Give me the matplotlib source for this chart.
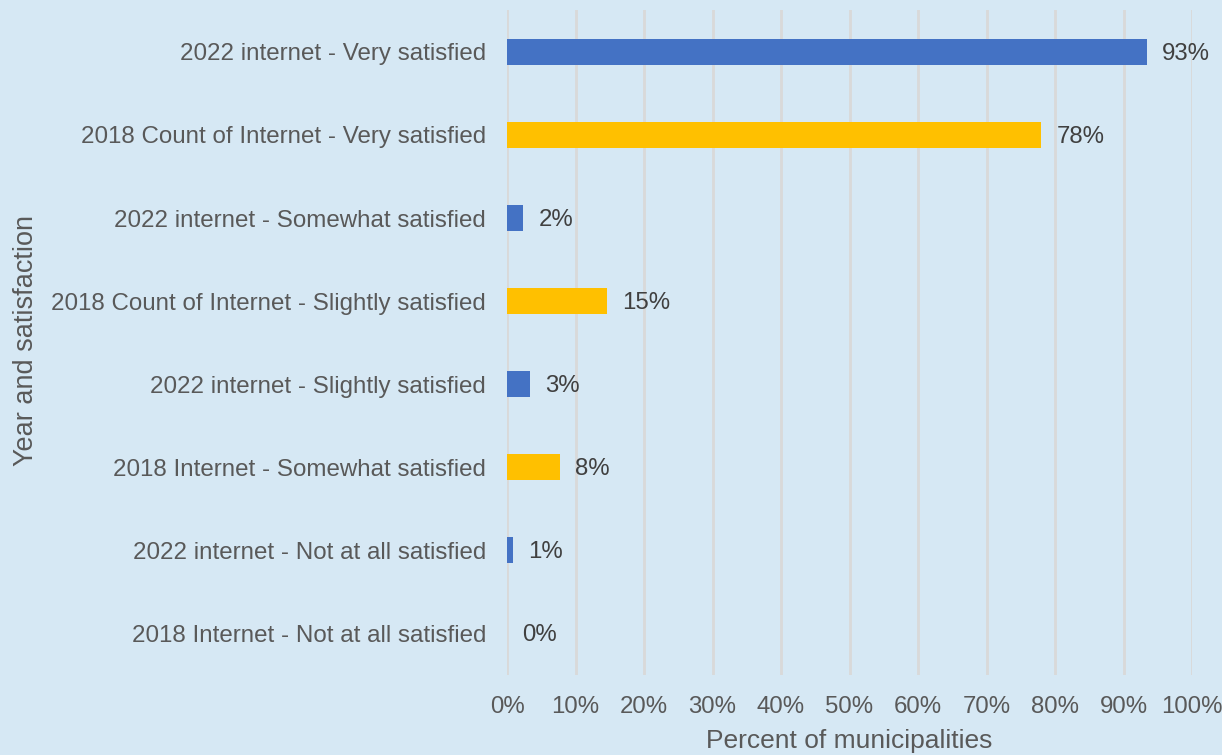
import matplotlib.pyplot as plt
import numpy as np

categories = [
    "2022 internet - Very satisfied",
    "2018 Count of Internet - Very satisfied",
    "2022 internet - Somewhat satisfied",
    "2018 Count of Internet - Slightly satisfied",
    "2022 internet - Slightly satisfied",
    "2018 Internet - Somewhat satisfied",
    "2022 internet - Not at all satisfied",
    "2018 Internet - Not at all satisfied",
]
values = [93.4, 78.0, 2.4, 14.6, 3.3, 7.7, 0.9, 0.0]
years = [2022, 2018, 2022, 2018, 2022, 2018, 2022, 2018]

plt.rcParams['font.family'] = ['Liberation Sans', 'DejaVu Sans']
bg = '#D6E8F4'
text_col = '#595959'
colors = ['#4472C4' if y == 2022 else '#FFC000' for y in years]

fig = plt.figure(figsize=(12.22, 7.55), dpi=100, facecolor=bg)
ax = fig.add_axes([0.4149, 0.1066, 0.5606, 0.8795], facecolor=bg)

pos = np.arange(len(categories))
ax.barh(pos, values, height=0.31, color=colors, zorder=3)
for p, v in zip(pos, values):
    ax.text(v + 2.2, p + 0.02, f"{v:.0f}%", va='center', ha='left', fontsize=17.3, color='#404040')

ax.set_ylim(len(categories) - 0.5, -0.5)
ax.set_xlim(0, 100)
ax.set_yticks(pos)
ax.set_yticklabels(categories, fontsize=17.4, color=text_col)
ax.set_xticks(np.arange(0, 101, 10))
ax.set_xticklabels([f"{t}%" for t in range(0, 101, 10)], fontsize=17.3, color=text_col)
ax.tick_params(length=0, pad=15)
ax.tick_params(axis='x', pad=15.5)
ax.grid(axis='x', color='#D9D9D9', linewidth=2, zorder=0)
for s in ax.spines.values():
    s.set_visible(False)

ax.set_xlabel("Percent of municipalities", fontsize=19, color=text_col, labelpad=8)
fig.text(0.021, 0.549, "Year and satisfaction", rotation=90, fontsize=19.5, color=text_col,
         va='center', ha='center')

fig.savefig("out.png", dpi=100, facecolor=bg)
